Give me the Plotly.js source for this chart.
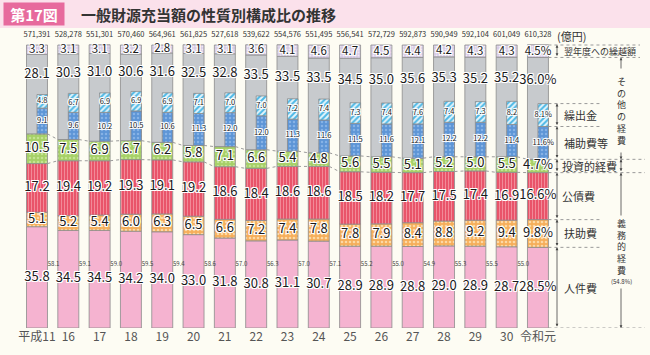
<!DOCTYPE html>
<html><head><meta charset="utf-8">
<script src="https://cdn.plot.ly/plotly-3.0.1.min.js"></script>
<style>html,body{margin:0;padding:0;background:#fdfcf3;}#chart{width:650px;height:355px;}</style>
</head><body><div id="chart"></div>
<script>
// ---- data ----
const years = ['平成11','16','17','18','19','20','21','22','23','24','25','26','27','28','29','30','令和元'];
const totals = [571391,528278,551301,570460,564961,561825,527618,539622,554576,551495,556541,572729,592873,590949,592104,601049,610328];
const personnel = [35.8,34.5,34.5,34.2,34.0,33.0,31.8,30.8,31.1,30.7,28.9,28.9,28.8,29.0,28.9,28.7,28.5];
const assistance = [5.1,5.2,5.4,6.0,6.3,6.5,6.6,7.2,7.4,7.8,7.8,7.9,8.4,8.8,9.2,9.4,9.8];
const debt = [17.2,19.4,19.2,19.3,19.1,19.2,18.6,18.4,18.6,18.6,18.5,18.2,17.7,17.5,17.4,16.9,16.6];
const investment = [10.5,7.5,6.9,6.7,6.2,5.8,7.1,6.6,5.4,4.8,5.6,5.5,5.1,5.2,5.0,5.5,4.7];
const other = [28.1,30.3,31.0,30.6,31.6,32.5,32.8,33.5,33.5,33.5,34.5,35.0,35.6,35.3,35.2,35.2,36.0];
const carryover = [3.3,3.1,3.1,3.2,2.8,3.1,3.1,3.6,4.1,4.6,4.7,4.5,4.4,4.2,4.3,4.3,4.5];
const subsidies = [9.1,9.6,10.2,10.5,10.6,11.3,12.0,12.0,11.3,11.6,11.5,11.6,12.1,12.2,12.2,11.4,11.6];
const transfers = [4.8,6.7,6.9,6.9,6.9,7.1,7.0,7.0,7.2,7.4,7.3,7.4,7.6,7.4,7.3,8.2,8.1];
const mandatory = [58.1,59.1,59.0,59.5,59.4,58.6,57.0,56.3,57.0,57.1,55.2,55.0,54.9,55.3,55.5,55.0,54.8];

// ---- derived ----
const n = years.length;
const idx = years.map((_, i) => i);
const add = (a, b) => a.map((v, i) => +(v + b[i]).toFixed(2));
const zero = idx.map(() => 0);
const bAssist = personnel.slice();
const bDebt = add(bAssist, assistance);
const bInv = add(bDebt, debt);
const bOther = add(bInv, investment);
const bCarry = add(bOther, other);
const bTrans = add(bOther, subsidies);
const innerTop = add(bTrans, transfers);
const last = n - 1;

const W = 0.67, HW = W / 2;
const px2x = px => (px - 37) / 31.31;
const py2y = py => (328 - py) / 2.83;

function bar(name, vals, base, color, pattern, inner) {
  return {type:'bar', name, x: idx, y: vals, base,
    width: inner ? HW : W, offset: inner ? 0 : -HW,
    marker:{color, line:{color:'#8c8c8c', width:0.8}, pattern: pattern || {shape:''}},
    hoverinfo:'skip', showlegend:false};
}
const fmt = (v, i) => v.toFixed(1) + (i === last ? '%' : '');
const shadow = '1px 1px 0 #fff, -1px -1px 0 #fff, 1px -1px 0 #fff, -1px 1px 0 #fff, 0 1px 0 #fff, 0 -1px 0 #fff, 1px 0 0 #fff, -1px 0 0 #fff';
function labels(vals, ys, size, xoff) {
  return {type:'scatter', mode:'text', x: idx.map(i => i + (xoff||0)), y: ys,
    text: vals.map(fmt), textposition:'middle center', cliponaxis:false,
    textfont:{family:'Noto Sans CJK JP, sans-serif', size, color:'#1a1a1a', shadow},
    hoverinfo:'skip', showlegend:false};
}

const traces = [
  bar('人件費', personnel, zero, '#f5b3d0'),
  bar('扶助費', assistance, bAssist, '#f6ae5a', {shape:'.', fgcolor:'#fcd9a6', bgcolor:'#f6ae5a', size:4, solidity:0.35}),
  bar('公債費', debt, bDebt, '#e9546a', {shape:'|', fgcolor:'#f28a98', bgcolor:'#e9546a', size:3, solidity:0.35}),
  bar('投資的経費', investment, bInv, '#a6d067', {shape:'.', fgcolor:'#c4e394', bgcolor:'#a6d067', size:4, solidity:0.3}),
  bar('その他の経費', other, bOther, '#c7cacd'),
  bar('翌年度への繰越額', carryover, bCarry, '#d7cbe5', {shape:'.', fgcolor:'#f0eaf6', bgcolor:'#d7cbe5', size:3, solidity:0.3}),
  bar('補助費等', subsidies, bOther, '#5d95d6', {shape:'.', fgcolor:'#86b2e6', bgcolor:'#5d95d6', size:4, solidity:0.3}, true),
  bar('繰出金', transfers, bTrans, '#4cb8e6', {shape:'/', fgcolor:'#4cb8e6', bgcolor:'#e6f5fb', size:4, solidity:0.5}, true)
];

// connector dotted lines across the investment band
const cx = [], cyTop = [], cyBot = [];
for (let i = 0; i < n - 1; i++) {
  cx.push(i + HW, i + 1 - HW, null);
  cyBot.push(bInv[i], bInv[i + 1], null);
  cyTop.push(bOther[i], bOther[i + 1], null);
}
const conn = y => ({type:'scatter', mode:'lines', x: cx, y, line:{color:'#9a9a9a', width:1, dash:'dot'}, hoverinfo:'skip', showlegend:false, connectgaps:false});
traces.push(conn(cyBot), conn(cyTop));

traces.push(
  labels(personnel, personnel.map(v => v / 2), 13),
  labels(assistance, assistance.map((v, i) => bAssist[i] + v / 2), 13),
  labels(debt, debt.map((v, i) => bDebt[i] + v / 2), 13),
  labels(investment, investment.map((v, i) => bInv[i] + v / 2), 13),
  labels(other, idx.map(i => (bCarry[i] + innerTop[i]) / 2), 13),
  labels(carryover, carryover.map((v, i) => bCarry[i] + v / 2 - 0.2), 11.5),
  labels(subsidies, subsidies.map((v, i) => bOther[i] + v / 2), 7.5, HW / 2),
  labels(transfers, transfers.map((v, i) => bTrans[i] + v / 2), 7.5, HW / 2)
);
// totals above bars
traces.push({type:'scatter', mode:'text', x: idx, y: idx.map(() => py2y(35.5)),
  text: totals.map(v => v.toLocaleString('en-US')), cliponaxis:false,
  textfont:{family:'Noto Sans CJK JP, sans-serif', size:7.5, color:'#333'}, hoverinfo:'skip', showlegend:false});
// mandatory subtotal labels between bars
traces.push({type:'scatter', mode:'text', x: idx.slice(0, last).map(i => i + 0.53), y: idx.slice(0, last).map(() => py2y(264)),
  text: mandatory.slice(0, last).map(v => v.toFixed(1)), cliponaxis:false,
  textfont:{family:'Noto Sans CJK JP, sans-serif', size:6, color:'#444'}, hoverinfo:'skip', showlegend:false});

// ---- layout decorations ----
const shapes = [
  {type:'rect', xref:'paper', yref:'paper', x0:0, x1:1, y0:1 - 28/328, y1:1, fillcolor:'#fbe1eb', line:{width:0}, layer:'below'}
];
const dotc = '#9a9a9a';
const dot = (y, x1) => ({type:'line', x0: last + HW, x1: px2x(x1), y0: y, y1: y, line:{color:dotc, width:1, dash:'dot'}});
shapes.push(dot(100, 640), dot(bCarry[last], 640),
  {type:'line', x0: last + HW, x1: px2x(600), y0: innerTop[last], y1: innerTop[last], line:{color:dotc, width:1, dash:'dot'}},
  {type:'line', x0: last + HW, x1: px2x(600), y0: bTrans[last], y1: bTrans[last], line:{color:dotc, width:1, dash:'dot'}},
  dot(bOther[last], 645), dot(bInv[last], 645), dot(bDebt[last], 600), dot(bAssist[last], 600), dot(0, 645));

const F = 'Noto Sans CJK JP, sans-serif';
const annotations = [
  {xref:'paper', yref:'paper', x:34/650, y:1 - 14/328, xanchor:'center', yanchor:'middle', text:'<b>第17図</b>', showarrow:false, width:60, height:22,
   bgcolor:'#e76a9d', borderpad:0, font:{family:F, size:15, color:'#fff'}},
  {xref:'paper', yref:'paper', x:79/650, y:1 - 14/328, xanchor:'left', yanchor:'middle', text:'<b>一般財源充当額の性質別構成比の推移</b>', showarrow:false, font:{family:F, size:15, color:'#333'}},
  {x: px2x(571), y: py2y(36), xanchor:'center', yanchor:'middle', text:'(億円)', showarrow:false, font:{family:F, size:11, color:'#333'}},
  {x: px2x(571), y: py2y(339), xanchor:'center', yanchor:'middle', text:'(年度)', showarrow:false, font:{family:F, size:12, color:'#444'}}
];
const lbl = (text, y, size, xp) => ({x: px2x(xp || 562), y, xanchor:'left', yanchor:'middle', text, showarrow:false, font:{family:F, size, color:'#333'}});
annotations.push(
  lbl('翌年度への繰越額', (100 + bCarry[last]) / 2, 9),
  lbl('繰出金', (bTrans[last] + innerTop[last]) / 2, 11),
  lbl('補助費等', (bOther[last] + bTrans[last]) / 2, 11),
  lbl('投資的経費', (bInv[last] + bOther[last]) / 2, 11, 560),
  lbl('公債費', (bDebt[last] + bInv[last]) / 2, 11, 560),
  lbl('扶助費', (bAssist[last] + bDebt[last]) / 2, 11),
  lbl('人件費', bAssist[last] / 2, 11)
);
const arrow = (xp, y0, y1, side) => ({x: px2x(xp), y: y1, ax: px2x(xp), ay: y0, axref:'x', ayref:'y', text:'', showarrow:true,
  arrowhead:2, arrowsize:0.7, arrowwidth:0.8, arrowcolor:'#444', arrowside: side || 'end+start', standoff:0, startstandoff:0});
const VX = 621;
annotations.push(
  arrow(557, bCarry[last], 100), arrow(557, bTrans[last], innerTop[last]), arrow(557, bOther[last], bTrans[last]),
  arrow(557, bInv[last], bOther[last]), arrow(557, bDebt[last], bInv[last]), arrow(557, bAssist[last], bDebt[last]),
  arrow(557, 0, bAssist[last]),
  arrow(VX, bInv[last], bOther[last]),
  arrow(VX, py2y(70), bCarry[last], 'end'), arrow(VX, py2y(151), bOther[last], 'end'),
  arrow(VX, py2y(217), bInv[last], 'end'), arrow(VX, py2y(287), 0, 'end')
);
const vtext = (s, py) => ({x: px2x(VX), y: py2y(py), xanchor:'center', yanchor:'middle', text: s.split('').join('<br>'), showarrow:false,
  borderpad:0, font:{family:F, size:9, color:'#333'}});
annotations.push(vtext('その他の経費', 110.5), vtext('義務的経費', 247));
annotations.push({x: px2x(VX), y: py2y(281.5), xanchor:'center', yanchor:'middle', text:'(' + mandatory[last].toFixed(1) + '%)', showarrow:false, borderpad:0, font:{family:F, size:6, color:'#333'}});

const layout = {
  width:650, height:355, margin:{l:0, r:0, t:0, b:27, autoexpand:false},
  paper_bgcolor:'#fdfcf3', plot_bgcolor:'#fdfcf3', barmode:'overlay', showlegend:false,
  xaxis:{range:[px2x(0), px2x(650)], tickvals: idx, ticktext: years, showgrid:false, zeroline:false, showline:false, ticks:'',
    tickfont:{family:F, size:12, color:'#555'}, fixedrange:true, automargin:false},
  yaxis:{range:[0, 328/2.83], visible:false, fixedrange:true},
  shapes, annotations,
  font:{family:F}
};
Plotly.newPlot('chart', traces, layout, {displayModeBar:false, staticPlot:true});
</script></body></html>
